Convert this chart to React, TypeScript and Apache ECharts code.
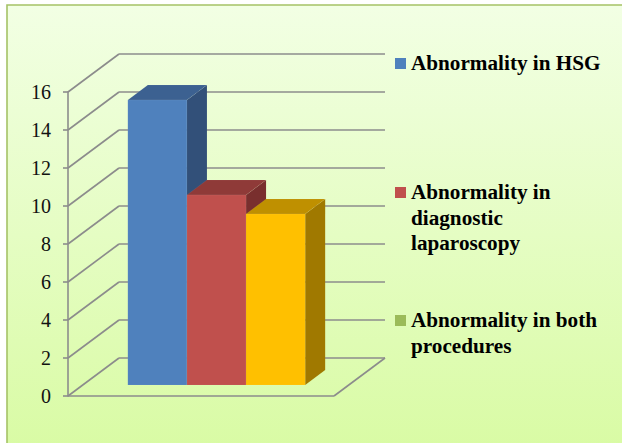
import React, { useEffect, useRef } from "react";
import * as echarts from "echarts";

const categories = ["Abnormality"];
const seriesNames = ["Abnormality in HSG", "Abnormality in diagnostic laparoscopy", "Abnormality in both procedures"];
const hsgValues = [15];
const laparoscopyValues = [10];
const bothValues = [9];
const tickValues = [0, 2, 4, 6, 8, 10, 12, 14, 16];
const legendColors = ["#4F81BD", "#C0504D", "#9BBB59"];
const legendLines = [
  ["Abnormality in HSG"],
  ["Abnormality in", "diagnostic", "laparoscopy"],
  ["Abnormality in both", "procedures"],
];
const legendTops = [63, 192, 320];
const faces = [
  { front: "#4F81BD", top: "#3C6191", side: "#325079" },
  { front: "#C0504D", top: "#8F3A38", side: "#792F2E" },
  { front: "#FFC000", top: "#BF9000", side: "#A07900" },
];

const DEPTH_X = 51;
const DEPTH_Y = 38;
const WALL_COLOR = "#8C8C8C";
const FONT = "Liberation Serif, serif";

export default function App() {
  const ref = useRef<HTMLDivElement>(null);
  useEffect(() => {
    document.body.style.margin = "0";
    const chart = echarts.init(ref.current!, undefined, { renderer: "svg" });

    const wallLine = (x1: number, y1: number, x2: number, y2: number) => ({
      type: "line",
      shape: { x1, y1, x2, y2 },
      style: { stroke: WALL_COLOR, lineWidth: 1.6 },
    });

    const barSeries = (name: string, data: number[], idx: number) => ({
      type: "custom",
      name,
      coordinateSystem: "cartesian2d",
      z: 5,
      data: data.map((v) => [0, v]),
      encode: { x: 0, y: 1 },
      renderItem: (_p: any, api: any) => {
        const top = api.coord([0, api.value(1)]);
        const base = api.coord([0, 0]);
        const band = api.size([1, 0])[0];
        const w = band / 4.5;
        const x0 = top[0] - 1.5 * w + idx * w + 15.5;
        const x1 = x0 + w;
        const yTop = top[1] - 11;
        const yBase = base[1] - 11;
        const dx = 20;
        const dy = 15;
        const c = faces[idx];
        const edge = { stroke: "rgba(255,255,255,0.12)", lineWidth: 0.5 };
        return {
          type: "group",
          children: [
            {
              type: "polygon",
              shape: { points: [[x1, yTop], [x1 + dx, yTop - dy], [x1 + dx, yBase - dy], [x1, yBase]] },
              style: { fill: c.side },
            },
            {
              type: "polygon",
              shape: { points: [[x0, yTop], [x0 + dx, yTop - dy], [x1 + dx, yTop - dy], [x1, yTop]] },
              style: { fill: c.top, ...edge },
            },
            {
              type: "rect",
              shape: { x: x0, y: yTop, width: w, height: yBase - yTop },
              style: { fill: c.front, ...edge },
            },
          ],
        };
      },
    });

    const wallSeries = {
      type: "custom",
      name: "walls",
      coordinateSystem: "cartesian2d",
      silent: true,
      z: 1,
      data: tickValues.map((v) => [0, v]),
      encode: { x: 0, y: 1 },
      renderItem: (_p: any, api: any) => {
        const v = api.value(1);
        const p = api.coord([0, v]);
        const band = api.size([1, 0])[0];
        const xL = p[0] - band / 2;
        const xR = p[0] + band / 2;
        const y = p[1];
        const children: any[] = [
          wallLine(xL, y, xL + DEPTH_X, y - DEPTH_Y),
          wallLine(xL + DEPTH_X, y - DEPTH_Y, xR + DEPTH_X, y - DEPTH_Y),
        ];
        if (v === 0) {
          children.push(wallLine(xL, y, xR, y));
          children.push(wallLine(xR, y, xR + DEPTH_X, y - DEPTH_Y));
        }
        return { type: "group", children };
      },
    };

    const legendGraphics: any[] = [];
    legendLines.forEach((lines, i) => {
      legendGraphics.push({
        type: "rect",
        shape: { x: 395, y: legendTops[i] - 5, width: 11, height: 11 },
        style: { fill: legendColors[i] },
      });
      lines.forEach((line, j) => {
        legendGraphics.push({
          type: "text",
          x: 411,
          y: legendTops[i] + j * 25.5,
          style: {
            text: line,
            fill: "#000",
            font: `bold 21.2px ${FONT}`,
            textVerticalAlign: "middle",
          },
        });
      });
    });

    chart.setOption({
      animation: false,
      backgroundColor: "transparent",
      grid: { left: 68, top: 92, width: 266, height: 304, containLabel: false },
      xAxis: {
        type: "category",
        data: categories,
        axisLine: { show: false },
        axisTick: { show: false },
        axisLabel: { show: false },
      },
      yAxis: {
        type: "value",
        min: 0,
        max: 16,
        interval: 2,
        axisLine: { show: true, lineStyle: { color: WALL_COLOR, width: 1.6 } },
        axisTick: { show: true, length: 5, lineStyle: { color: WALL_COLOR, width: 1.6 } },
        axisLabel: { color: "#111", fontFamily: FONT, fontSize: 20, margin: 17 },
        splitLine: { show: false },
      },
      tooltip: { show: false },
      graphic: [
        {
          type: "rect",
          z: -10,
          silent: true,
          shape: { x: 7, y: 5, width: 640, height: 460 },
          style: {
            fill: new echarts.graphic.LinearGradient(0, 0, 0, 1, [
              { offset: 0, color: "#F2FFE4" },
              { offset: 1, color: "#D8FBA2" },
            ]),
            stroke: "#A5C266",
            lineWidth: 1.6,
          },
        },
        ...legendGraphics,
      ],
      series: [
        wallSeries,
        barSeries(seriesNames[0], hsgValues, 0),
        barSeries(seriesNames[1], laparoscopyValues, 1),
        barSeries(seriesNames[2], bothValues, 2),
      ],
    });
    return () => chart.dispose();
  }, []);
  return <div ref={ref} style={{ width: 622, height: 443, background: "#fff" }} />;
}
